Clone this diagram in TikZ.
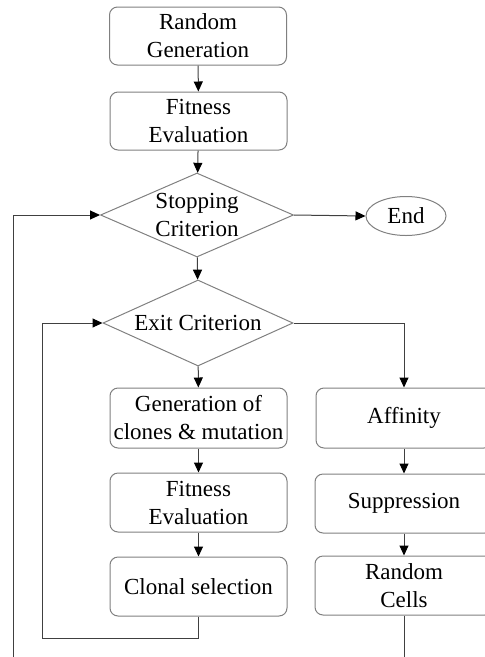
\documentclass[tikz,border=0pt]{standalone}
\usepackage{fontspec}
\setmainfont{Liberation Serif}
\usetikzlibrary{shapes.geometric,arrows.meta}
\tikzset{
    box/.style={draw=black!50,line width=1pt,rounded corners=8pt,align=center,
        minimum width=177pt,minimum height=59pt,inner sep=0pt},
    cond/.style={draw=black!50,line width=1pt,diamond,shape aspect=2.2,align=center,inner sep=0pt},
    link/.style={draw=black!75,line width=1pt,-{Triangle[length=10pt,width=9pt,color=black]}},
}
\begin{document}
\begin{tikzpicture}[x=1pt,y=-1pt,font=\fontsize{23}{28}\selectfont]
        \useasboundingbox (0,0) rectangle (485,657);
        \clip (0,0) rectangle (485,657);
        \node[box,minimum height=58pt] (randgen) at (198,36) {Random\\Generation};
        \node[box,minimum height=58pt] (fitness) at (198.5,121) {Fitness\\Evaluation};
        \node[cond,minimum width=193pt,minimum height=84pt] (stopping) at (197,215) {Stopping\\Criterion};
        \node[draw=black!50,line width=1pt,ellipse,minimum width=80pt,minimum height=39pt,inner sep=0pt] (finish) at (406,216) {End};
        \node[cond,minimum width=190pt,minimum height=86pt] (exit) at (198,323) {Exit Criterion};
        \node[box,minimum height=60pt] (clones) at (198.5,418) {Generation of\\clones \& mutation};
        \node[box] (fitnessb) at (198.5,502.5) {Fitness\\Evaluation};
        \node[box] (clonal) at (198.5,586.5) {Clonal selection};
        \node[box,minimum width=176pt,minimum height=60pt] (affinity) at (404,418) {Affinity};
        \node[box,minimum width=178pt] (suppress) at (404,503.5) {Suppression};
        \node[box,minimum width=178pt] (cells) at (404,585.5) {Random\\Cells};
        \coordinate (outer) at (13,657);
        \coordinate (inner) at (42,638);
        \draw[link] (randgen) -- (fitness);
        \draw[link] (fitness) -- (stopping);
        \draw[link] (stopping.east) -- (finish.west);
        \draw[link] (stopping) -- (exit);
        \draw[link] (exit) -- (clones);
        \draw[link] (clones) -- (fitnessb);
        \draw[link] (fitnessb) -- (clonal);
        \draw[link] (exit.east) -| (affinity.north);
        \draw[link] (affinity) -- (suppress);
        \draw[link] (suppress) -- (cells);
        \draw[link] (clonal.south) |- (inner) |- (exit.west);
        \draw[link] (outer) |- (stopping.west);
        \draw[draw=black!75,line width=1pt] (cells.south) -- (cells.south |- outer);
    \end{tikzpicture}
\end{document}
